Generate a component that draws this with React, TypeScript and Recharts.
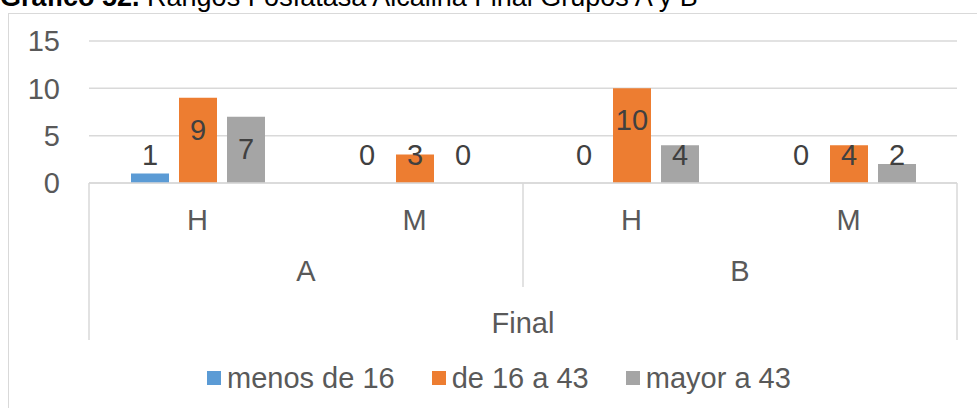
import { BarChart, Bar, XAxis, YAxis, CartesianGrid, Legend, LabelList } from 'recharts';

const categories = ['H', 'M', 'H', 'M'];
const groups = ['A', 'A', 'B', 'B'];
const periods = ['Final', 'Final', 'Final', 'Final'];
const menos16 = [1, 0, 0, 0];
const de16a43 = [9, 3, 10, 4];
const mayor43 = [7, 0, 4, 2];
const yTicks = [0, 5, 10, 15];

const seriesNames = ['menos de 16', 'de 16 a 43', 'mayor a 43'];
const colors = ['#5b9bd5', '#ed7d31', '#a5a5a5'];

const W = 977;
const H = 408;
const margin = { top: 41, right: 20, bottom: 10, left: 8 };
const yAxisW = 81;
const plotW = W - margin.left - margin.right - yAxisW;

const font = '"Liberation Sans", Arial, sans-serif';
const grid = '#d9d9d9';
const textCol = '#595959';

const data = categories.map((c, i) => ({
    sub: c,
    group: groups[i],
    period: periods[i],
    menos: menos16[i],
    medio: de16a43[i],
    mayor: mayor43[i],
}));

// zero bars get a tiny height so that their "0" label still shows
const zeroSize = (value: any) => (value === 0 ? 0.01 : 0);

const renderLabel = (props: any) => {
    const { x, y, width, height, value } = props;
    const cy = Math.min(y + 32, y + height - 28);
    return (
        <text x={x + width / 2} y={cy} textAnchor="middle" dominantBaseline="central"
            fill="#404040" fontSize={29} fontFamily={font}>
            {value}
        </text>
    );
};

const SubTick = (props: any) => (
    <text x={props.x} y={props.y + 37} textAnchor="middle" dominantBaseline="central"
        fill={textCol} fontSize={29} fontFamily={font}>
        {props.payload.value}
    </text>
);

const GroupTick = (props: any) => (
    <text x={props.x} y={props.y + 33} textAnchor="middle" dominantBaseline="central"
        fill={textCol} fontSize={29} fontFamily={font}>
        {props.payload.value}
    </text>
);

const PeriodTick = (props: any) => {
    const { x, y } = props;
    const hw = plotW / 2;
    return (
        <g>
            <line x1={x - hw} x2={x - hw} y1={y - 108} y2={y + 49} stroke={grid} strokeWidth={1.5} />
            <line x1={x + hw} x2={x + hw} y1={y - 108} y2={y + 49} stroke={grid} strokeWidth={1.5} />
            <line x1={x} x2={x} y1={y - 108} y2={y - 4} stroke={grid} strokeWidth={1.5} />
            <text x={x} y={y + 32} textAnchor="middle" dominantBaseline="central"
                fill={textCol} fontSize={29} fontFamily={font}>
                {props.payload.value}
            </text>
        </g>
    );
};

const LegendContent = () => (
    <div style={{ display: 'flex', alignItems: 'center', height: 40, paddingLeft: 199, fontFamily: font, fontSize: 29, color: textCol }}>
        {seriesNames.map((n, i) => (
            <div key={n} style={{ display: 'flex', alignItems: 'center', marginRight: 37 }}>
                <span style={{ width: 14, height: 14, background: colors[i], marginRight: 6, display: 'inline-block' }} />
                <span style={{ whiteSpace: 'nowrap' }}>{n}</span>
            </div>
        ))}
    </div>
);

export default function App() {
    return (
        <div style={{ position: 'fixed', left: 0, top: 0, width: W, height: H, overflow: 'hidden', background: '#fff' }}>
            <div style={{ position: 'absolute', left: 8, top: 13, width: 1100, height: 600, border: `1.5px solid ${grid}`, boxSizing: 'border-box' }} />
            <svg width={W} height={20} style={{ position: 'absolute', left: 0, top: 0 }}>
                <text x={0} y={6} fontSize={27} fontFamily={font} fill="#000">
                    <tspan fontWeight="bold">Gráfico 52.</tspan>
                    <tspan> Rangos Fosfatasa Alcalina Final Grupos A y B</tspan>
                </text>
            </svg>
            <div style={{ position: 'absolute', left: 0, top: 0 }}>
                <BarChart width={W} height={H} data={data} margin={margin} barSize={38} barGap={10}>
                    <CartesianGrid vertical={false} stroke={grid} strokeWidth={1.5} />
                    <YAxis width={yAxisW} domain={[0, 15]} ticks={yTicks} axisLine={false} tickLine={false}
                        tickSize={0} tickMargin={29} interval={0}
                        tick={{ fill: textCol, fontSize: 29, fontFamily: font }} />
                    <XAxis dataKey="sub" height={55} axisLine={{ stroke: grid, strokeWidth: 1.5 }} tickLine={false}
                        tickSize={0} tickMargin={0} interval={0} tick={<SubTick />} />
                    <XAxis xAxisId="group" dataKey="group" allowDuplicatedCategory={false} height={53}
                        axisLine={false} tickLine={false} tickSize={0} tickMargin={0} interval={0} tick={<GroupTick />} />
                    <XAxis xAxisId="period" dataKey="period" allowDuplicatedCategory={false} height={67}
                        axisLine={false} tickLine={false} tickSize={0} tickMargin={0} interval={0} tick={<PeriodTick />} />
                    <Legend verticalAlign="bottom" content={<LegendContent />} />
                    <Bar dataKey="menos" name={seriesNames[0]} fill={colors[0]} minPointSize={zeroSize} isAnimationActive={false}>
                        <LabelList dataKey="menos" content={renderLabel} />
                    </Bar>
                    <Bar dataKey="medio" name={seriesNames[1]} fill={colors[1]} minPointSize={zeroSize} isAnimationActive={false}>
                        <LabelList dataKey="medio" content={renderLabel} />
                    </Bar>
                    <Bar dataKey="mayor" name={seriesNames[2]} fill={colors[2]} minPointSize={zeroSize} isAnimationActive={false}>
                        <LabelList dataKey="mayor" content={renderLabel} />
                    </Bar>
                </BarChart>
            </div>
        </div>
    );
}
